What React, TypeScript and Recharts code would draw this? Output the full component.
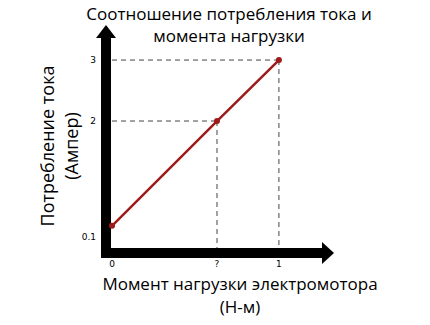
import { LineChart, Line, XAxis, YAxis, ReferenceLine, ReferenceDot } from "recharts";

// load torque (x) vs current draw (y)
const torque = [0, 0.629, 1];
const current = [0.28, 2, 3];

const xTicks = [0, 0.629, 1];
const xTickLabels = ["0", "?", "1"];
const yTicks = [0.1, 2, 3];
const yTickLabels = ["0.1", "2", "3"];

const xDomain = [-0.036, 1.33];
const yDomain = [-0.165, 3.575];

const titleLines = ["Соотношение потребления тока и", "момента нагрузки"];
const xLabelLines = ["Момент нагрузки электромотора", "(Н-м)"];
const yLabelLines = ["Потребление тока", "(Ампер)"];

const FONT = "'Open Sans', sans-serif";
const RED = "#9e1b1b";
const data = torque.map((x, i) => ({ x, y: current[i] }));

const UpArrow = ({ cx, cy }: any) => (
  <polygon points={`${cx},${cy} ${cx + 10},${cy + 13} ${cx - 10},${cy + 13}`} fill="#000" />
);
const RightArrow = ({ cx, cy }: any) => (
  <polygon points={`${cx},${cy} ${cx - 12},${cy - 11} ${cx - 12},${cy + 11}`} fill="#000" />
);

export default function App() {
  return (
    <div style={{ position: "absolute", left: 0, top: 0, width: 430, height: 325, background: "#fff" }}>
      <div
        style={{
          position: "absolute",
          left: 0,
          top: 3,
          width: 458,
          textAlign: "center",
          fontFamily: FONT,
          fontSize: 17,
          lineHeight: "22px",
          color: "#000",
        }}
      >
        {titleLines.map((t) => (
          <div key={t}>{t}</div>
        ))}
      </div>
      <LineChart width={430} height={325} data={data} margin={{ top: 25, right: 96, bottom: 42, left: 76 }}>
        <XAxis
          type="number"
          dataKey="x"
          domain={xDomain}
          ticks={xTicks}
          tickFormatter={(_v, i) => xTickLabels[i]}
          axisLine={false}
          tickLine={false}
          height={30}
          tick={{ fontSize: 9, fill: "#000", fontFamily: "DejaVu Sans" }}
          label={{
            content: () => (
              <text textAnchor="middle" fontFamily={FONT} fontSize={17} fill="#000">
                {xLabelLines.map((t, i) => (
                  <tspan key={t} x={240} y={290 + i * 23}>
                    {t}
                  </tspan>
                ))}
              </text>
            ),
          }}
        />
        <YAxis
          type="number"
          dataKey="y"
          domain={yDomain}
          ticks={yTicks}
          tickFormatter={(_v, i) => yTickLabels[i]}
          axisLine={false}
          tickLine={false}
          width={30}
          tickMargin={4}
          tick={{ fontSize: 9, fill: "#000", fontFamily: "DejaVu Sans" }}
          label={{
            content: () => (
              <text textAnchor="middle" fontFamily={FONT} fontSize={18} fill="#000" transform="rotate(-90 61 146)">
                {yLabelLines.map((t, i) => (
                  <tspan key={t} x={61} y={139 + i * 24}>
                    {t}
                  </tspan>
                ))}
              </text>
            ),
          }}
        />
        {data.slice(1).map((p) => (
          <ReferenceLine
            key={`h${p.x}`}
            segment={[{ x: 0, y: p.y }, { x: p.x, y: p.y }]}
            stroke="#444"
            strokeDasharray="5 4"
            ifOverflow="visible"
          />
        ))}
        {data.slice(1).map((p) => (
          <ReferenceLine
            key={`v${p.x}`}
            segment={[{ x: p.x, y: p.y }, { x: p.x, y: yDomain[0] }]}
            stroke="#444"
            strokeDasharray="5 4"
            ifOverflow="visible"
          />
        ))}
        <ReferenceLine
          segment={[{ x: xDomain[0], y: yDomain[0] }, { x: xDomain[0], y: yDomain[1] - 0.25 }]}
          stroke="#000"
          strokeWidth={10}
          strokeLinecap="square"
          ifOverflow="visible"
        />
        <ReferenceLine
          segment={[{ x: xDomain[0], y: yDomain[0] }, { x: xDomain[1] - 0.08, y: yDomain[0] }]}
          stroke="#000"
          strokeWidth={10}
          strokeLinecap="square"
          ifOverflow="visible"
        />
        <ReferenceDot x={xDomain[0]} y={yDomain[1]} ifOverflow="visible" shape={UpArrow} />
        <ReferenceDot x={xDomain[1]} y={yDomain[0]} ifOverflow="visible" shape={RightArrow} />
        <Line
          type="linear"
          dataKey="y"
          stroke={RED}
          strokeWidth={2.5}
          dot={{ r: 3, fill: RED, stroke: RED, strokeWidth: 0 }}
          isAnimationActive={false}
        />
      </LineChart>
    </div>
  );
}
